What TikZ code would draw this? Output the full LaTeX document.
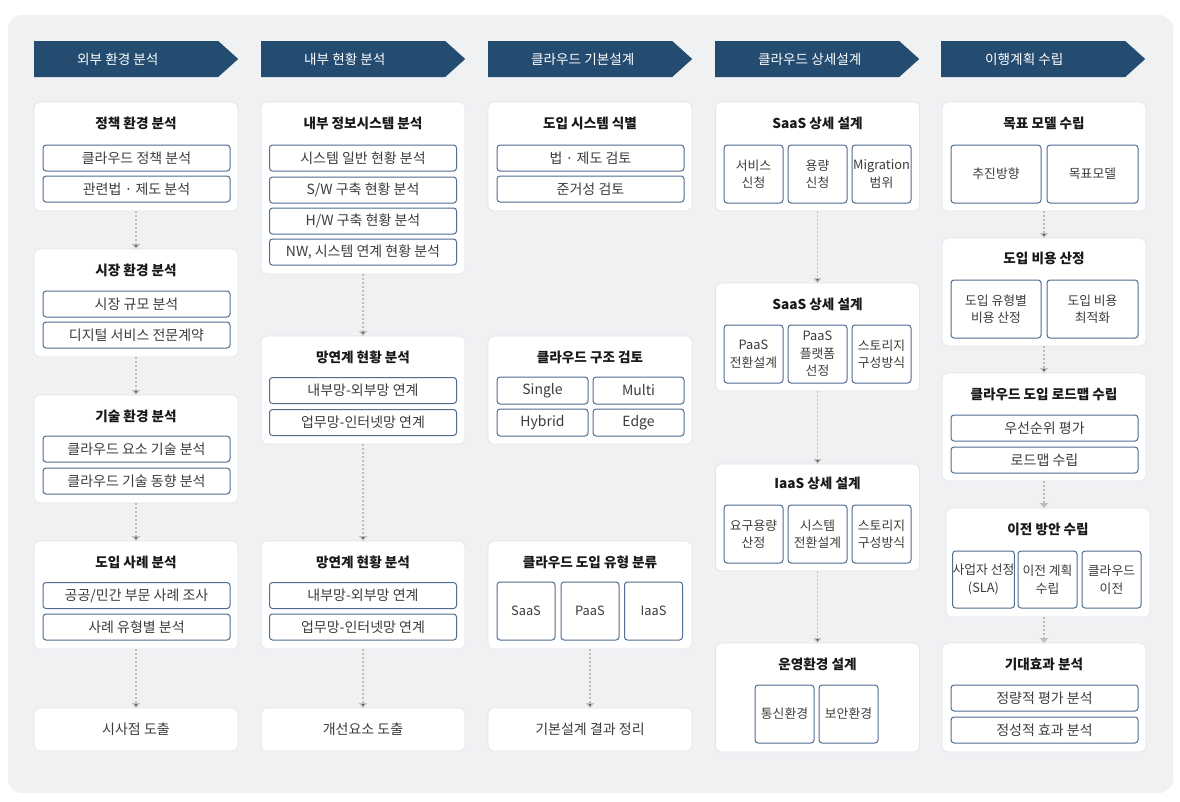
\documentclass[tikz,border=0pt]{standalone}
\usepackage{fontspec}
\setmainfont{Noto Sans CJK KR}
\usetikzlibrary{arrows.meta,shapes.symbols}
\definecolor{panel}{HTML}{F0F1F3}
\definecolor{navy}{HTML}{244B70}
\definecolor{cardline}{HTML}{E2E5E9}
\definecolor{itemline}{HTML}{4E6D8F}
\definecolor{itemtext}{HTML}{3C3C3C}
\definecolor{flowgray}{HTML}{BEBEBE}

\begin{document}
\begin{tikzpicture}[x=1pt, y=-1pt,
    head/.style={signal, signal to=east, signal pointer angle=84, fill=navy,
                 minimum width=204pt, minimum height=36pt, inner sep=0pt, anchor=west},
    headtext/.style={text=white, font=\fontsize{13.6}{16}\selectfont, anchor=west, inner sep=0pt},
    card/.style={draw=cardline, fill=white, rounded corners=6pt, line width=0.8pt,
                 minimum width=204pt, inner sep=0pt, outer sep=0pt,
                 text=itemtext, font=\fontsize{14}{16}\selectfont},
    ttl/.style={font=\fontsize{13.6}{16}\selectfont\bfseries, text=black!90},
    item/.style={draw=itemline, fill=white, rounded corners=3pt, line width=1pt,
                 minimum width=187pt, minimum height=26pt, inner sep=0pt,
                 text=itemtext, font=\fontsize{14}{16}\selectfont},
    cell/.style={item, minimum width=59pt, minimum height=58pt, align=center,
                 font=\fontsize{12.8}{17.5}\selectfont},
    flow/.style={draw=flowgray, line width=1.4pt, dash pattern=on 2pt off 2pt,
                 -{Triangle[width=8pt,length=5pt]}}]
    %\draw[help lines] (0,0) grid[step=50] (1180,801);

   \useasboundingbox (0,0) rectangle (1180,801);
   \fill[white] (0,0) rectangle (1180,801);
   \fill[panel, rounded corners=14pt] (8,15) rectangle (1173,793);

   % column 1
   \node[head] (h1) at (34,59) {};
   \node[headtext] (h1t) at (77,59) {외부 환경 분석};
   \node[card, minimum height=109pt] (c1a) at (136,156.5) {};
   \node[ttl] (t1a) at (136,123) {정책 환경 분석};
   \node[item] (i1a1) at (136.5,158) {클라우드 정책 분석};
   \node[item] (i1a2) at (136.5,189) {관련법 · 제도 분석};
   \node[card, minimum height=108pt] (c1b) at (136,303) {};
   \node[ttl] (t1b) at (136,270) {시장 환경 분석};
   \node[item] (i1b1) at (136.5,304) {시장 규모 분석};
   \node[item] (i1b2) at (136.5,335) {디지털 서비스 전문계약};
   \node[card, minimum height=108pt] (c1c) at (136,449) {};
   \node[ttl] (t1c) at (136,416) {기술 환경 분석};
   \node[item] (i1c1) at (136.5,449) {클라우드 요소 기술 분석};
   \node[item] (i1c2) at (136.5,481) {클라우드 기술 동향 분석};
   \node[card, minimum height=108pt] (c1d) at (136,595) {};
   \node[ttl] (t1d) at (136,562) {도입 사례 분석};
   \node[item] (i1d1) at (136.5,595.5) {공공/민간 부문 사례 조사};
   \node[item] (i1d2) at (136.5,627) {사례 유형별 분석};
   \node[card, minimum height=43pt] (c1e) at (136,729.5) {시사점 도출};

   % column 2
   \node[head] (h2) at (261,59) {};
   \node[headtext] (h2t) at (304,59) {내부 현황 분석};
   \node[card, minimum height=172pt] (c2a) at (363,188) {};
   \node[ttl] (t2a) at (363,123) {내부 정보시스템 분석};
   \node[item] (i2a1) at (363,158) {시스템 일반 현황 분석};
   \node[item] (i2a2) at (363,190) {S/W 구축 현황 분석};
   \node[item] (i2a3) at (363,221) {H/W 구축 현황 분석};
   \node[item] (i2a4) at (363,252) {NW, 시스템 연계 현황 분석};
   \node[card, minimum height=108pt] (c2b) at (363,390) {};
   \node[ttl] (t2b) at (363,357) {망연계 현황 분석};
   \node[item] (i2b1) at (363,390.5) {내부망-외부망 연계};
   \node[item] (i2b2) at (363,422.5) {업무망-인터넷망 연계};
   \node[card, minimum height=108pt] (c2c) at (363,595) {};
   \node[ttl] (t2c) at (363,562) {망연계 현황 분석};
   \node[item] (i2c1) at (363,595.5) {내부망-외부망 연계};
   \node[item] (i2c2) at (363,627) {업무망-인터넷망 연계};
   \node[card, minimum height=43pt] (c2d) at (363,729.5) {개선요소 도출};

   % column 3
   \node[head] (h3) at (488,59) {};
   \node[headtext] (h3t) at (531,59) {클라우드 기본설계};
   \node[card, minimum height=109pt] (c3a) at (590,156.5) {};
   \node[ttl] (t3a) at (590,123) {도입 시스템 식별};
   \node[item] (i3a1) at (590.5,158) {법 · 제도 검토};
   \node[item] (i3a2) at (590.5,189) {준거성 검토};
   \node[card, minimum height=108pt] (c3b) at (590,390) {};
   \node[ttl] (t3b) at (590,357) {클라우드 구조 검토};
   \node[item, minimum width=91pt, minimum height=27pt] (i3b1) at (542.5,390.5) {Single};
   \node[item, minimum width=91pt, minimum height=27pt] (i3b2) at (638.5,390.5) {Multi};
   \node[item, minimum width=91pt, minimum height=27pt] (i3b3) at (542.5,422.5) {Hybrid};
   \node[item, minimum width=91pt, minimum height=27pt] (i3b4) at (638.5,422.5) {Edge};
   \node[card, minimum height=108pt] (c3c) at (590,595) {};
   \node[ttl] (t3c) at (590,562) {클라우드 도입 유형 분류};
   \node[cell, minimum width=58pt] (i3c1) at (526,611) {SaaS};
   \node[cell, minimum width=58pt] (i3c2) at (590,611) {PaaS};
   \node[cell, minimum width=58pt] (i3c3) at (653.5,611) {IaaS};
   \node[card, minimum height=43pt] (c3d) at (590,729.5) {기본설계 결과 정리};

   % column 4
   \node[head] (h4) at (715,59) {};
   \node[headtext] (h4t) at (758,59) {클라우드 상세설계};
   \node[card, minimum height=109pt] (c4a) at (817.5,156.5) {};
   \node[ttl] (t4a) at (817.5,123) {SaaS 상세 설계};
   \node[cell] (i4a1) at (753.5,174) {서비스\\신청};
   \node[cell] (i4a2) at (817.5,174) {용량\\신청};
   \node[cell] (i4a3) at (881.5,174) {Migration\\범위};
   \node[card, minimum height=108pt] (c4b) at (817.5,337) {};
   \node[ttl] (t4b) at (817.5,304) {SaaS 상세 설계};
   \node[cell] (i4b1) at (753.5,354) {PaaS\\전환설계};
   \node[cell] (i4b2) at (817.5,354) {PaaS\\플랫폼\\선정};
   \node[cell] (i4b3) at (881.5,354) {스토리지\\구성방식};
   \node[card, minimum height=107pt] (c4c) at (817.5,517.5) {};
   \node[ttl] (t4c) at (817.5,483) {IaaS 상세 설계};
   \node[cell] (i4c1) at (753.5,534) {요구용량\\산정};
   \node[cell] (i4c2) at (817.5,534) {시스템\\전환설계};
   \node[cell] (i4c3) at (881.5,534) {스토리지\\구성방식};
   \node[card, minimum height=109pt] (c4d) at (817.5,697.5) {};
   \node[ttl] (t4d) at (817.5,664) {운영환경 설계};
   \node[cell] (i4d1) at (784.5,714) {통신환경};
   \node[cell] (i4d2) at (848.5,714) {보안환경};

   % column 5
   \node[head] (h5) at (941,59) {};
   \node[headtext] (h5t) at (985,59) {이행계획 수립};
   \node[card, minimum height=109pt] (c5a) at (1044,156.5) {};
   \node[ttl] (t5a) at (1044,123) {목표 모델 수립};
   \node[cell, minimum width=90pt] (i5a1) at (996,174) {추진방향};
   \node[cell, minimum width=91pt] (i5a2) at (1092.5,174) {목표모델};
   \node[card, minimum height=108pt] (c5b) at (1044,292) {};
   \node[ttl] (t5b) at (1044,258) {도입 비용 산정};
   \node[cell, minimum width=90pt] (i5b1) at (996,309) {도입 유형별\\비용 산정};
   \node[cell, minimum width=91pt] (i5b2) at (1092.5,309) {도입 비용\\최적화};
   \node[card, minimum height=108pt] (c5c) at (1044,427) {};
   \node[ttl] (t5c) at (1044,394) {클라우드 도입 로드맵 수립};
   \node[item] (i5c1) at (1044.5,428) {우선순위 평가};
   \node[item] (i5c2) at (1044.5,460) {로드맵 수립};
   \node[card, minimum height=109pt] (c5d) at (1048,562.5) {};
   \node[ttl] (t5d) at (1048,529) {이전 방안 수립};
   \node[cell, minimum height=57pt] (i5d1) at (983.5,579.5) {사업자 선정\\(SLA)};
   \node[cell, minimum height=57pt] (i5d2) at (1047.5,579.5) {이전 계획\\수립};
   \node[cell, minimum height=57pt] (i5d3) at (1111.5,579.5) {클라우드\\이전};
   \node[card, minimum height=109pt] (c5e) at (1044,697.5) {};
   \node[ttl] (t5e) at (1044,664) {기대효과 분석};
   \node[item] (i5e1) at (1044.5,698) {정량적 평가 분석};
   \node[item] (i5e2) at (1044.5,730) {정성적 효과 분석};

   % flows
   \path[flow]
   (c1a) edge (c1b)
   (c1b) edge (c1c)
   (c1c) edge (c1d)
   (c1d) edge (c1e)
   (c2a) edge (c2b)
   (c2b) edge (c2c)
   (c2c) edge (c2d)
   (c3c) edge (c3d)
   (c4a) edge (c4b)
   (c4b) edge (c4c)
   (c4c) edge (c4d)
   (c5a) edge (c5b)
   (c5b) edge (c5c);
   \draw[flow] (c5c.south) -- (c5c.south |- c5d.north);
   \draw[flow] (c5e.north |- c5d.south) -- (c5e.north);

\end{tikzpicture}
\end{document}
